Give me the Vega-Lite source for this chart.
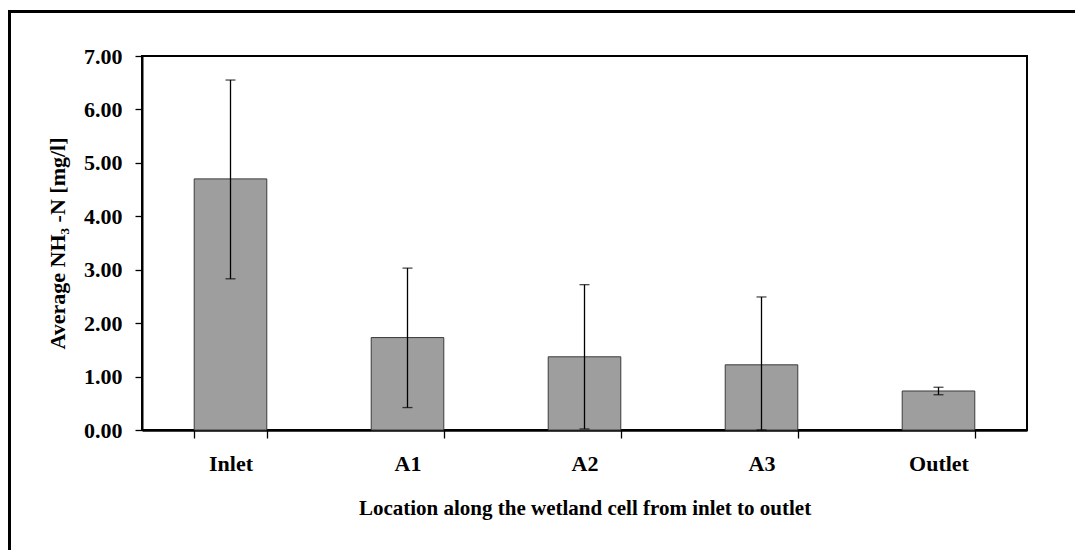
{
  "$schema": "https://vega.github.io/schema/vega-lite/v6.json",
  "width": 885,
  "height": 374,
  "autosize": {"type": "none"},
  "padding": {"left": 142, "top": 56, "right": 48, "bottom": 120},
  "background": "white",
  "config": {
    "view": {"stroke": "black", "strokeWidth": 2},
    "font": "Liberation Serif"
  },
  "data": {
    "values": [
      {"location": "Inlet", "mean": 4.70, "low": 2.83, "high": 6.55},
      {"location": "A1", "mean": 1.73, "low": 0.42, "high": 3.03},
      {"location": "A2", "mean": 1.37, "low": 0.02, "high": 2.72},
      {"location": "A3", "mean": 1.22, "low": 0.0, "high": 2.49},
      {"location": "Outlet", "mean": 0.73, "low": 0.66, "high": 0.80}
    ]
  },
  "layer": [
    {
      "mark": {"type": "bar", "fill": "#9e9e9e", "stroke": "#3a3a3a", "strokeWidth": 1},
      "encoding": {
        "x": {
          "field": "location",
          "type": "nominal",
          "sort": null,
          "scale": {"paddingInner": 0.59, "paddingOuter": 0.295},
          "axis": {
            "title": "Location along the wetland cell from inlet to outlet",
            "labelAngle": 0,
            "tickBand": "extent",
            "tickSize": 8,
            "tickColor": "black",
            "tickWidth": 1.3,
            "domainColor": "black",
            "domainWidth": 2.5,
            "grid": false,
            "labelFont": "Liberation Serif",
            "labelFontWeight": "bold",
            "labelFontSize": 22,
            "labelColor": "black",
            "labelPadding": 15,
            "titleFont": "Liberation Serif",
            "titleFontSize": 21,
            "titleFontWeight": "bold",
            "titleColor": "black",
            "titlePadding": 23
          }
        },
        "y": {
          "field": "mean",
          "type": "quantitative",
          "scale": {"domain": [0, 7], "nice": false},
          "axis": {
            "title": "Average NH₃ -N [mg/l]",
            "values": [0, 1, 2, 3, 4, 5, 6, 7],
            "format": ".2f",
            "grid": false,
            "tickSize": 7,
            "tickColor": "black",
            "tickWidth": 1.3,
            "domainColor": "black",
            "domainWidth": 2,
            "labelFont": "Liberation Serif",
            "labelFontWeight": "bold",
            "labelFontSize": 22,
            "labelColor": "black",
            "labelPadding": 13,
            "titleFont": "Liberation Serif",
            "titleFontSize": 22,
            "titleFontWeight": "bold",
            "titleColor": "black",
            "titlePadding": 14
          }
        }
      }
    },
    {
      "mark": {"type": "rule", "color": "black", "strokeWidth": 1.3},
      "encoding": {
        "x": {"field": "location", "type": "nominal", "sort": null},
        "y": {"field": "low", "type": "quantitative"},
        "y2": {"field": "high"}
      }
    },
    {
      "mark": {"type": "tick", "color": "black", "size": 10, "thickness": 1.3},
      "encoding": {
        "x": {"field": "location", "type": "nominal", "sort": null},
        "y": {"field": "high", "type": "quantitative"}
      }
    },
    {
      "mark": {"type": "tick", "color": "black", "size": 10, "thickness": 1.3},
      "encoding": {
        "x": {"field": "location", "type": "nominal", "sort": null},
        "y": {"field": "low", "type": "quantitative"}
      }
    },
    {
      "data": {"values": [{}]},
      "mark": {"type": "rect", "fill": null, "stroke": "black", "strokeWidth": 3, "clip": false},
      "encoding": {
        "x": {"value": -132.5},
        "x2": {"value": 1200},
        "y": {"value": -44.5},
        "y2": {"value": 700}
      }
    }
  ]
}
